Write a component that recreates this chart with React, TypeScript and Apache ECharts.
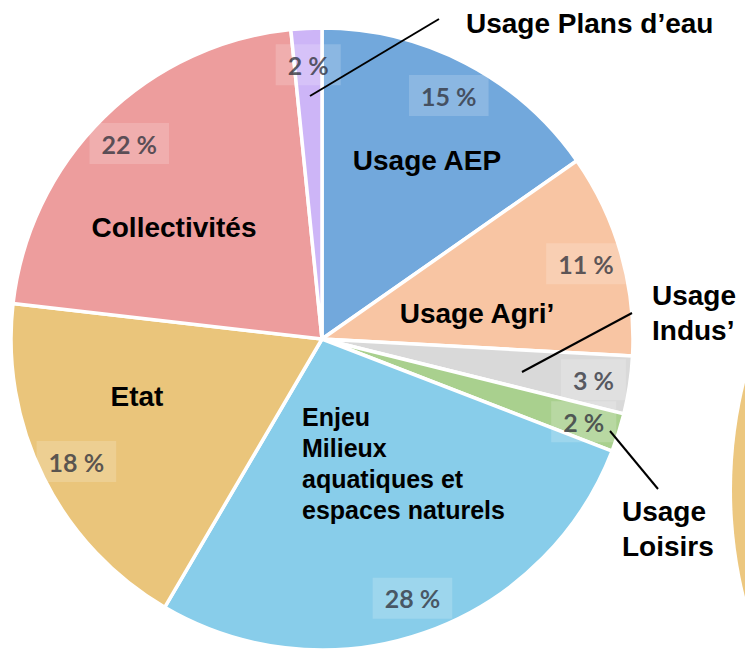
import React, { useEffect, useRef } from "react";
import * as echarts from "echarts";

// ---- data ----
const categories = [
  "Usage AEP",
  "Usage Agri’",
  "Usage Indus’",
  "Usage Loisirs",
  "Enjeu Milieux aquatiques et espaces naturels",
  "Etat",
  "Collectivités",
  "Usage Plans d’eau",
];
const shares = [15.3, 10.6, 3.0, 2.0, 27.6, 18.4, 21.6, 1.6];
const nameTexts = [
  "Usage AEP",
  "Usage Agri’",
  "Usage\nIndus’",
  "Usage\nLoisirs",
  "Enjeu\nMilieux\naquatiques et\nespaces naturels",
  "Etat",
  "Collectivités",
  "Usage Plans d’eau",
];

// ---- styles / layout ----
const sliceColors = ["#72a8dc", "#f8c5a3", "#d9d9d9", "#a9d08e", "#88cdea", "#eac57b", "#ed9d9d", "#cdb5f7"];
const CENTER: [number, number] = [322, 339];
const R = 311;
const nameLayout = [
  { x: 427, y: 160, align: "center", size: 28, lh: 34 },
  { x: 477, y: 313, align: "center", size: 28, lh: 34 },
  { x: 652, y: 313, align: "left", size: 28, lh: 35 },
  { x: 622, y: 529, align: "left", size: 28, lh: 35 },
  { x: 302, y: 463, align: "left", size: 25, lh: 31 },
  { x: 137, y: 396, align: "center", size: 28, lh: 34 },
  { x: 174, y: 227, align: "center", size: 28, lh: 34 },
  { x: 466, y: 23, align: "left", size: 28, lh: 34 },
];
const leaderLines = [
  [310, 96, 439, 19],
  [522, 372, 632, 313],
  [610, 431, 658, 489],
];

export default function App() {
  const ref = useRef<HTMLDivElement>(null);
  useEffect(() => {
    if (!ref.current) return;
    const chart = echarts.init(ref.current, null, { renderer: "svg" });
    const data = categories.map((c, i) => ({
      name: c,
      value: shares[i],
      itemStyle: { color: sliceColors[i] },
    }));
    const graphic: any[] = [
      {
        type: "circle",
        silent: true,
        z: 0,
        shape: { cx: 1180, cy: 490, r: 448 },
        style: { fill: "#ecc77f" },
      },
    ];
    leaderLines.forEach((l) => {
      graphic.push({
        type: "line",
        silent: true,
        z: 100,
        shape: { x1: l[0], y1: l[1], x2: l[2], y2: l[3] },
        style: { stroke: "#000", lineWidth: 2 },
      });
    });
    nameTexts.forEach((t, i) => {
      const p = nameLayout[i];
      graphic.push({
        type: "text",
        silent: true,
        z: 100,
        x: p.x,
        y: p.y,
        style: {
          text: t,
          fill: "#000",
          fontFamily: "'Liberation Sans', Arial, sans-serif",
          fontWeight: "bold",
          fontSize: p.size,
          lineHeight: p.lh,
          textAlign: p.align,
          align: p.align,
          textVerticalAlign: "middle",
          verticalAlign: "middle",
        },
      });
    });
    chart.setOption({
      animation: false,
      backgroundColor: "#ffffff",
      graphic,
      series: [
        {
          type: "pie",
          center: CENTER,
          radius: [0, R],
          startAngle: 90,
          clockwise: true,
          silent: true,
          label: { show: false },
          labelLine: { show: false },
          itemStyle: { borderColor: "#ffffff", borderWidth: 3.5 },
          data,
        },
        {
          type: "pie",
          center: CENTER,
          radius: [232, R],
          startAngle: 90,
          clockwise: true,
          silent: true,
          avoidLabelOverlap: false,
          itemStyle: { color: "transparent", borderWidth: 0 },
          label: {
            show: true,
            position: "inside",
            formatter: (p: any) => `${Math.round(p.value)} %`,
            fontFamily: "Lato, 'Open Sans', sans-serif",
            fontWeight: "bold",
            fontSize: 25,
            color: "rgba(50,52,62,0.78)",
            backgroundColor: "rgba(255,255,255,0.18)",
            padding: [8, 12],
          },
          labelLine: { show: false },
          data: shares.map((v, i) => ({ name: categories[i], value: v })),
        },
      ],
    });
    return () => chart.dispose();
  }, []);
  return (
    <div
      ref={ref}
      style={{ position: "fixed", left: 0, top: 0, width: 745, height: 651 }}
    />
  );
}
